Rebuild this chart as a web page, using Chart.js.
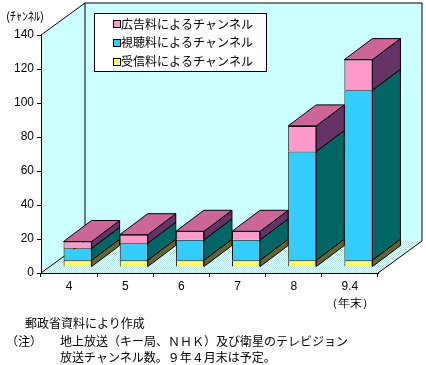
<!DOCTYPE html>
<html>
<head>
<meta charset="utf-8">
<script src="https://cdn.jsdelivr.net/npm/chart.js@4"></script>
<style>
body{margin:0;background:#fff;}
#wrap{position:relative;width:426px;height:365px;font-family:"Noto Sans CJK JP",sans-serif;font-size:12px;color:#000;}
canvas{position:absolute;left:0;top:0;}
.note{position:absolute;white-space:nowrap;line-height:16px;}
</style>
</head>
<body>
<div id="wrap">
<canvas id="chart" width="426" height="365"></canvas>
<div class="note" style="left:25px;top:315px">郵政省資料により作成</div>
<div class="note" style="left:6px;top:333px">（注）</div>
<div class="note" style="left:60px;top:333px">地上放送（キー局、ＮＨＫ）及び衛星のテレビジョン</div>
<div class="note" style="left:60px;top:349px">放送チャンネル数。９年４月末は予定。</div>
</div>
<script>
'use strict';
var years = ['4', '5', '6', '7', '8', ['9.4', '（年末）']];
var adChannels = [4, 5, 5, 5, 15, 18];      // 広告料
var feeChannels = [7, 10, 12, 12, 64, 100]; // 視聴料
var nhkChannels = [4, 4, 4, 4, 4, 4];       // 受信料

// 3d look
var DX = 44, DY = -32;   // depth of floor and walls
var BX = 28, BY = -21;   // depth of each bar
var SX = 8.5, SY = -6;   // bars stand a bit back from the front edge

function path(ctx, pts) {
  ctx.beginPath();
  ctx.moveTo(pts[0][0], pts[0][1]);
  for (var i = 1; i < pts.length; i++) {
    ctx.lineTo(pts[i][0], pts[i][1]);
  }
  ctx.closePath();
}
function face(ctx, pts, color) {
  path(ctx, pts);
  ctx.fillStyle = color;
  ctx.fill();
  ctx.strokeStyle = '#000';
  ctx.lineWidth = 1;
  ctx.stroke();
}
function line(ctx, x1, y1, x2, y2) {
  ctx.beginPath();
  ctx.moveTo(x1, y1);
  ctx.lineTo(x2, y2);
  ctx.stroke();
}

// dotted floor
var pc = document.createElement('canvas');
pc.width = 2; pc.height = 2;
var pctx = pc.getContext('2d');
pctx.fillStyle = '#ffffff';
pctx.fillRect(0, 0, 2, 2);
pctx.fillStyle = '#b8e4e4';
pctx.fillRect(0, 0, 1, 1);
pctx.fillRect(1, 1, 1, 1);

var box3d = {
  id: 'box3d',
  beforeDraw: function(chart) {
    var ctx = chart.ctx, a = chart.chartArea;
    var L = a.left, R = a.right, T = a.top, B = a.bottom;
    ctx.save();
    path(ctx, [[L, T], [L + DX, T + DY], [L + DX, B + DY], [L, B]]);
    ctx.fillStyle = '#ccffff';
    ctx.fill();
    path(ctx, [[L + DX, T + DY], [R + DX, T + DY], [R + DX, B + DY], [L + DX, B + DY]]);
    ctx.fill();
    path(ctx, [[L, B], [R, B], [R + DX, B + DY], [L + DX, B + DY]]);
    ctx.fillStyle = ctx.createPattern(pc, 'repeat');
    ctx.fill();
    ctx.strokeStyle = '#000';
    ctx.lineWidth = 1;
    line(ctx, L, T, L + DX, T + DY);
    line(ctx, L + DX, T + DY, R + DX, T + DY);
    line(ctx, R + DX, T + DY, R + DX, B + DY);
    line(ctx, L + DX, T + DY, L + DX, B + DY);
    line(ctx, L, B, L + DX, B + DY);
    line(ctx, R, B, R + DX, B + DY);
    ctx.restore();
  },
  beforeDatasetsDraw: function(chart) {
    var ctx = chart.ctx;
    ctx.save();
    ctx.translate(SX, SY);
    var n = chart.data.labels.length;
    for (var i = 0; i < n; i++) {
      var topEl = null, topDs = null;
      for (var d = 0; d < chart.data.datasets.length; d++) {
        var ds = chart.data.datasets[d];
        var el = chart.getDatasetMeta(d).data[i];
        var xr = el.x + el.width / 2;
        face(ctx, [[xr, el.y], [xr + BX, el.y + BY], [xr + BX, el.base + BY], [xr, el.base]], ds.sideColor);
        if (ds.data[i] > 0) { topEl = el; topDs = ds; }
      }
      if (topEl) {
        var l = topEl.x - topEl.width / 2, r = topEl.x + topEl.width / 2, y = topEl.y;
        face(ctx, [[l, y], [l + BX, y + BY], [r + BX, y + BY], [r, y]], topDs.topColor);
      }
    }
  },
  afterDatasetsDraw: function(chart) {
    chart.ctx.restore();
  },
  afterDraw: function(chart) {
    var ctx = chart.ctx;
    ctx.save();
    // legend box
    ctx.fillStyle = '#fff';
    ctx.fillRect(94.5, 13.5, 172, 58);
    ctx.strokeStyle = '#000';
    ctx.lineWidth = 1;
    ctx.strokeRect(94.5, 13.5, 172, 58);
    ctx.font = '12px "Noto Sans CJK JP"';
    ctx.textBaseline = 'middle';
    var sets = chart.data.datasets;
    for (var k = 0; k < sets.length; k++) {
      var ds = sets[sets.length - 1 - k];
      var y = 24 + k * 18.8;
      ctx.fillStyle = ds.backgroundColor;
      ctx.fillRect(113.5, Math.round(y) - 3.5, 7, 7);
      ctx.strokeRect(113.5, Math.round(y) - 3.5, 7, 7);
      ctx.fillStyle = '#000';
      ctx.fillText(ds.label, 121, y);
    }
    // unit
    ctx.textAlign = 'center';
    ctx.fillText('(ﾁｬﾝﾈﾙ)', 25, 16);
    ctx.restore();
  }
};

var tickFont = {family: 'Liberation Sans', size: 12, lineHeight: 1.4};

new Chart(document.getElementById('chart'), {
  type: 'bar',
  data: {
    labels: years,
    datasets: [{
      label: '受信料によるチャンネル',
      data: nhkChannels,
      backgroundColor: '#ffff66',
      sideColor: '#666633',
      topColor: '#cccc33',
      borderColor: '#000',
      borderWidth: 1
    }, {
      label: '視聴料によるチャンネル',
      data: feeChannels,
      backgroundColor: '#33ccff',
      sideColor: '#006666',
      topColor: '#0099cc',
      borderColor: '#000',
      borderWidth: 1
    }, {
      label: '広告料によるチャンネル',
      data: adChannels,
      backgroundColor: '#ff99cc',
      sideColor: '#663366',
      topColor: '#cc6699',
      borderColor: '#000',
      borderWidth: 1
    }]
  },
  options: {
    responsive: false,
    animation: false,
    devicePixelRatio: 1,
    barPercentage: 0.5,
    categoryPercentage: 1,
    layout: {padding: {top: 35, right: 48, bottom: 50, left: 0}},
    plugins: {legend: {display: false}, tooltip: {enabled: false}},
    scales: {
      x: {
        stacked: true,
        grid: {offset: true, drawOnChartArea: false, tickLength: 4, color: '#000'},
        border: {color: '#000'},
        ticks: {color: '#000', font: tickFont, padding: 1, maxRotation: 0},
        afterFit: function(s) { s.height = 42; }
      },
      y: {
        stacked: true,
        min: 0,
        max: 140,
        grid: {drawOnChartArea: false, tickLength: 4, color: '#000'},
        border: {color: '#000'},
        ticks: {stepSize: 20, color: '#000', font: tickFont, padding: 3},
        afterFit: function(s) { s.width = 41; }
      }
    }
  },
  plugins: [box3d]
});
</script>
</body>
</html>
